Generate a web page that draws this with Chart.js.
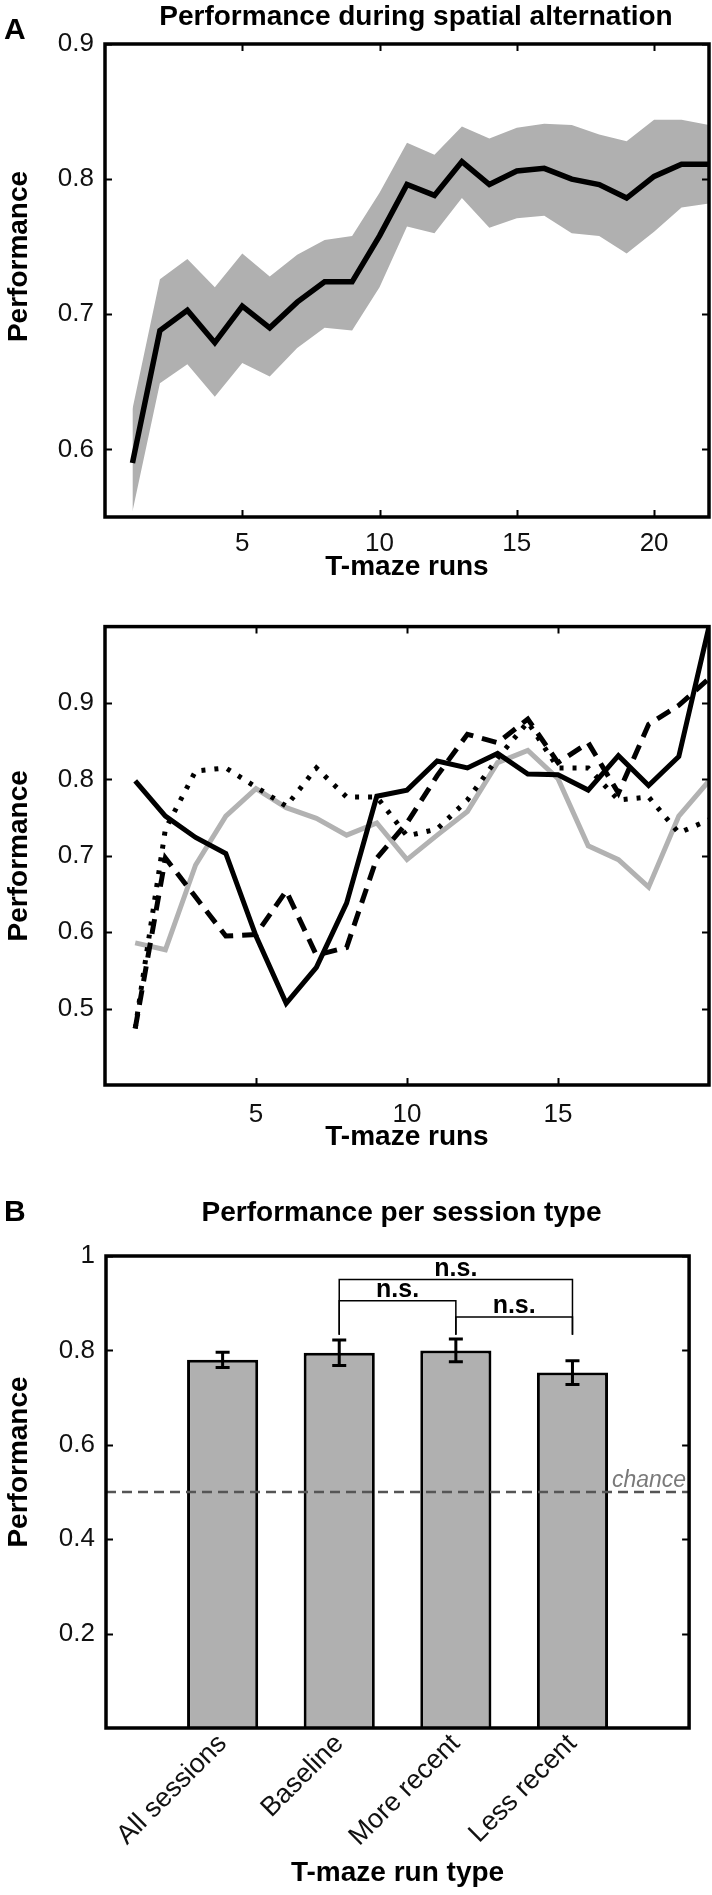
<!DOCTYPE html>
<html>
<head>
<meta charset="utf-8">
<script src="https://cdn.jsdelivr.net/npm/chart.js@4.4.0/dist/chart.umd.min.js"></script>
<style>
  html, body { margin: 0; padding: 0; background: #fff; }
  body { width: 712px; height: 1895px; position: relative; overflow: hidden; }
  .panel { position: absolute; left: 0; width: 712px; }
</style>
</head>
<body>
<div class="panel" style="top:0;height:600px"><canvas id="chartA"></canvas></div>
<div class="panel" style="top:600px;height:560px"><canvas id="chartRuns"></canvas></div>
<div class="panel" style="top:1160px;height:735px"><canvas id="chartB"></canvas></div>
<script>
// ---- panel A (top): mean performance with shaded band
var runsA = [1, 2, 3, 4, 5, 6, 7, 8, 9, 10, 11, 12, 13, 14, 15, 16, 17, 18, 19, 20, 21, 22];
var meanA = [0.590, 0.688, 0.703, 0.679, 0.706, 0.690, 0.709, 0.724, 0.724, 0.758, 0.796,
             0.788, 0.813, 0.796, 0.806, 0.808, 0.800, 0.796, 0.786, 0.802, 0.811, 0.811];
var upperA = [0.630, 0.726, 0.741, 0.720, 0.745, 0.728, 0.744, 0.755, 0.758, 0.790, 0.827,
              0.818, 0.839, 0.830, 0.838, 0.841, 0.840, 0.833, 0.828, 0.844, 0.844, 0.840];
var lowerA = [0.554, 0.649, 0.663, 0.639, 0.664, 0.654, 0.675, 0.690, 0.688, 0.720, 0.765,
              0.760, 0.786, 0.764, 0.771, 0.773, 0.760, 0.758, 0.745, 0.761, 0.779, 0.782];
var yTicksA = [0.6, 0.7, 0.8, 0.9];
var xTicksA = [5, 10, 15, 20];

// ---- panel A (middle): single sessions
var runsS = [1, 2, 3, 4, 5, 6, 7, 8, 9, 10, 11, 12, 13, 14, 15, 16, 17, 18, 19, 20];
var sessSolid  = [0.798, 0.752, 0.724, 0.703, 0.595, 0.507, 0.554, 0.638, 0.778, 0.786,
                  0.824, 0.815, 0.834, 0.807, 0.806, 0.786, 0.831, 0.792, 0.830, 1.000];
var sessDashed = [0.474, 0.697, 0.646, 0.595, 0.597, 0.654, 0.570, 0.580, 0.697, 0.743,
                  0.805, 0.859, 0.848, 0.879, 0.822, 0.848, 0.782, 0.872, 0.897, 0.932];
var sessDotted = [0.474, 0.735, 0.811, 0.815, 0.790, 0.765, 0.815, 0.777, 0.777, 0.726,
                  0.735, 0.773, 0.828, 0.875, 0.815, 0.815, 0.773, 0.777, 0.730, 0.747];
var sessGray   = [0.586, 0.577, 0.688, 0.752, 0.788, 0.763, 0.749, 0.727, 0.743, 0.695,
                  0.727, 0.758, 0.822, 0.838, 0.801, 0.713, 0.695, 0.659, 0.752, 0.798];
var yTicksS = [0.5, 0.6, 0.7, 0.8, 0.9];
var xTicksS = [5, 10, 15];

// ---- panel B: performance per session type
var runTypes = ['All sessions', 'Baseline', 'More recent', 'Less recent'];
var perfB = [0.780, 0.795, 0.800, 0.753];
var errB = [0.016, 0.027, 0.024, 0.025];
var yTicksB = [0.2, 0.4, 0.6, 0.8, 1];
var chance = 0.5;
// comparisons: [first type, second type, height of bracket]
var brackets = [
    ['Baseline', 'Less recent', 0.950],
    ['Baseline', 'More recent', 0.905],
    ['More recent', 'Less recent', 0.871]
];
var bracketFoot = 0.833;

var FONT = "'Liberation Sans', Arial, Helvetica, sans-serif";
Chart.defaults.font.family = FONT;
Chart.defaults.color = '#111';

function pts(xs, ys) {
    return xs.map(function (x, i) { return { x: x, y: ys[i] }; });
}
function fixTicks(list) {
    return function (scale) {
        scale.ticks = list.map(function (v) { return { value: v }; });
    };
}
function plainNumber(v) {
    return String(+v.toFixed(2));
}

// box around the plot area and MATLAB style inward tick marks
var boxPlugin = {
    id: 'box',
    afterDatasetsDraw: function (chart, args, opts) {
        var a = chart.chartArea, ctx = chart.ctx, tl = 7;
        ctx.save();
        ctx.strokeStyle = '#000';
        ctx.lineWidth = 2;
        (opts.axes || []).forEach(function (id) {
            var s = chart.scales[id];
            s.ticks.forEach(function (t) {
                var p = Math.round(s.getPixelForValue(t.value)) + 0.5;
                ctx.beginPath();
                if (id === 'x') {
                    ctx.moveTo(p, a.bottom); ctx.lineTo(p, a.bottom - tl);
                    ctx.moveTo(p, a.top); ctx.lineTo(p, a.top + tl);
                } else {
                    ctx.moveTo(a.left, p); ctx.lineTo(a.left + tl, p);
                    ctx.moveTo(a.right, p); ctx.lineTo(a.right - tl, p);
                }
                ctx.stroke();
            });
        });
        ctx.lineWidth = 3.5;
        ctx.strokeRect(a.left, a.top, a.right - a.left, a.bottom - a.top);
        ctx.restore();
    }
};

// panel letter, title and the y axis label
var headPlugin = {
    id: 'head',
    afterDraw: function (chart, args, opts) {
        var a = chart.chartArea, ctx = chart.ctx;
        ctx.save();
        ctx.fillStyle = '#000';
        ctx.textBaseline = 'middle';
        if (opts.letter) {
            ctx.font = 'bold 30px ' + FONT;
            ctx.textAlign = 'left';
            ctx.fillText(opts.letter, 4, opts.letterY);
        }
        if (opts.title) {
            ctx.font = 'bold 28px ' + FONT;
            ctx.textAlign = 'center';
            ctx.fillText(opts.title, (a.left + a.right) / 2 + opts.titleShift, opts.titleY);
        }
        if (opts.yLabel) {
            ctx.font = 'bold 28px ' + FONT;
            ctx.textAlign = 'center';
            ctx.translate(19, (a.top + a.bottom) / 2 + (opts.yLabelShift || 0));
            ctx.rotate(-Math.PI / 2);
            ctx.fillText(opts.yLabel, 0, 0);
        }
        ctx.restore();
    }
};

function lineScales(xMin, xMax, yMin, yMax, xTicks, yTicks, xHeight, xPad, xTitlePad) {
    return {
        x: {
            type: 'linear', min: xMin, max: xMax,
            afterBuildTicks: fixTicks(xTicks),
            afterFit: function (s) { s.height = xHeight; },
            grid: { display: false, drawTicks: false },
            border: { display: false },
            ticks: { font: { size: 26 }, padding: xPad, color: '#111', callback: plainNumber },
            title: { display: true, text: 'T-maze runs', font: { size: 28, weight: 'bold' },
                     color: '#000', padding: { top: 0, bottom: xTitlePad } }
        },
        y: {
            type: 'linear', min: yMin, max: yMax,
            afterBuildTicks: fixTicks(yTicks),
            afterFit: function (s) { s.width = 105; },
            grid: { display: false, drawTicks: false },
            border: { display: false },
            ticks: { font: { size: 26 }, padding: 11, color: '#111', callback: plainNumber },
            title: { display: false }
        }
    };
}

var common = {
    responsive: true,
    maintainAspectRatio: false,
    animation: false,
    events: [],
    elements: { point: { radius: 0 }, line: { tension: 0 } }
};

// ---- chart A
new Chart(document.getElementById('chartA'), {
    type: 'line',
    data: {
        datasets: [
            { data: pts(runsA, meanA), borderColor: '#000', borderWidth: 5.5, fill: false },
            { data: pts(runsA, upperA), borderWidth: 0, borderColor: 'rgba(0,0,0,0)',
              backgroundColor: '#b0b0b0', fill: '+1' },
            { data: pts(runsA, lowerA), borderWidth: 0, borderColor: 'rgba(0,0,0,0)', fill: false }
        ]
    },
    options: Object.assign({}, common, {
        layout: { padding: { top: 44, right: 3, left: 0, bottom: 0 } },
        scales: lineScales(0, 22, 0.55, 0.9, xTicksA, yTicksA, 83, 11, 16),
        plugins: {
            legend: { display: false }, tooltip: { enabled: false },
            box: { axes: ['x', 'y'] },
            head: { letter: 'A', letterY: 31, title: 'Performance during spatial alternation',
                    titleY: 17, titleShift: 9, yLabel: 'Performance', yLabelShift: -24 }
        }
    }),
    plugins: [boxPlugin, headPlugin]
});

// ---- chart with single sessions
new Chart(document.getElementById('chartRuns'), {
    type: 'line',
    data: {
        datasets: [
            { data: pts(runsS, sessSolid), borderColor: '#000', borderWidth: 5 },
            { data: pts(runsS, sessDashed), borderColor: '#000', borderWidth: 5, borderDash: [15, 9] },
            { data: pts(runsS, sessDotted), borderColor: '#000', borderWidth: 5, borderDash: [4, 9] },
            { data: pts(runsS, sessGray), borderColor: '#b2b2b2', borderWidth: 5 }
        ]
    },
    options: Object.assign({}, common, {
        layout: { padding: { top: 10, right: 3, left: 0, bottom: 0 } },
        scales: lineScales(0, 20, 0.4, 1.0, xTicksS, yTicksS, 75, 14, 6),
        plugins: {
            legend: { display: false }, tooltip: { enabled: false },
            box: { axes: ['x', 'y'] },
            head: { yLabel: 'Performance', yLabelShift: 0 }
        }
    }),
    plugins: [boxPlugin, headPlugin]
});

// error bars, chance level and significance brackets
var barExtras = {
    id: 'barExtras',
    afterDatasetsDraw: function (chart) {
        var a = chart.chartArea, ctx = chart.ctx;
        var xs = chart.scales.x, ys = chart.scales.y;
        var labels = chart.data.labels;
        function px(name) { return xs.getPixelForValue(labels.indexOf(name)); }
        ctx.save();
        // error bars
        ctx.strokeStyle = '#000';
        ctx.lineWidth = 3;
        runTypes.forEach(function (t, i) {
            var x = px(t), hi = ys.getPixelForValue(perfB[i] + errB[i]), lo = ys.getPixelForValue(perfB[i] - errB[i]);
            ctx.beginPath();
            ctx.moveTo(x, hi); ctx.lineTo(x, lo);
            ctx.moveTo(x - 7, hi); ctx.lineTo(x + 7, hi);
            ctx.moveTo(x - 7, lo); ctx.lineTo(x + 7, lo);
            ctx.stroke();
        });
        // chance line
        var yc = ys.getPixelForValue(chance);
        ctx.strokeStyle = '#555';
        ctx.lineWidth = 2.5;
        ctx.setLineDash([10, 6]);
        ctx.beginPath();
        ctx.moveTo(a.left, yc); ctx.lineTo(a.right, yc);
        ctx.stroke();
        ctx.setLineDash([]);
        ctx.fillStyle = '#7a7a7a';
        ctx.font = 'italic 23px ' + FONT;
        ctx.textAlign = 'right';
        ctx.textBaseline = 'alphabetic';
        ctx.fillText('chance', a.right - 3, yc - 5);
        // brackets
        ctx.strokeStyle = '#000';
        ctx.lineWidth = 1.5;
        ctx.fillStyle = '#000';
        ctx.font = 'bold 25px ' + FONT;
        ctx.textAlign = 'center';
        var foot = ys.getPixelForValue(bracketFoot);
        brackets.forEach(function (b) {
            var x1 = px(b[0]), x2 = px(b[1]), y = ys.getPixelForValue(b[2]);
            ctx.beginPath();
            ctx.moveTo(x1, foot); ctx.lineTo(x1, y); ctx.lineTo(x2, y); ctx.lineTo(x2, foot);
            ctx.stroke();
            ctx.fillText('n.s.', (x1 + x2) / 2, y - 4);
        });
        ctx.restore();
    }
};

// ---- chart B
new Chart(document.getElementById('chartB'), {
    type: 'bar',
    data: {
        labels: [''].concat(runTypes, ['']),
        datasets: [{
            data: [null].concat(perfB, [null]),
            backgroundColor: '#b0b0b0',
            borderColor: '#000',
            borderWidth: 3,
            barPercentage: 0.61,
            categoryPercentage: 1
        }]
    },
    options: Object.assign({}, common, {
        layout: { padding: { top: 96, right: 3, left: 0, bottom: 0 } },
        scales: {
            x: {
                type: 'category', offset: false,
                afterFit: function (s) { s.height = 167; },
                grid: { display: false, drawTicks: false },
                border: { display: false },
                ticks: { font: { size: 27 }, padding: 0, color: '#111', autoSkip: false,
                         minRotation: 45, maxRotation: 45 },
                title: { display: true, text: 'T-maze run type', font: { size: 28, weight: 'bold' },
                         color: '#000', padding: { top: 0, bottom: 5 } }
            },
            y: {
                type: 'linear', min: 0, max: 1,
                afterBuildTicks: fixTicks(yTicksB),
                afterFit: function (s) { s.width = 106; },
                grid: { display: false, drawTicks: false },
                border: { display: false },
                ticks: { font: { size: 26 }, padding: 11, color: '#111', callback: plainNumber },
                title: { display: false }
            }
        },
        plugins: {
            legend: { display: false }, tooltip: { enabled: false },
            box: { axes: ['y'] },
            head: { letter: 'B', letterY: 53, title: 'Performance per session type', titleY: 53,
                    titleShift: 4, yLabel: 'Performance', yLabelShift: -30 }
        }
    }),
    plugins: [barExtras, boxPlugin, headPlugin]
});
</script>
</body>
</html>
